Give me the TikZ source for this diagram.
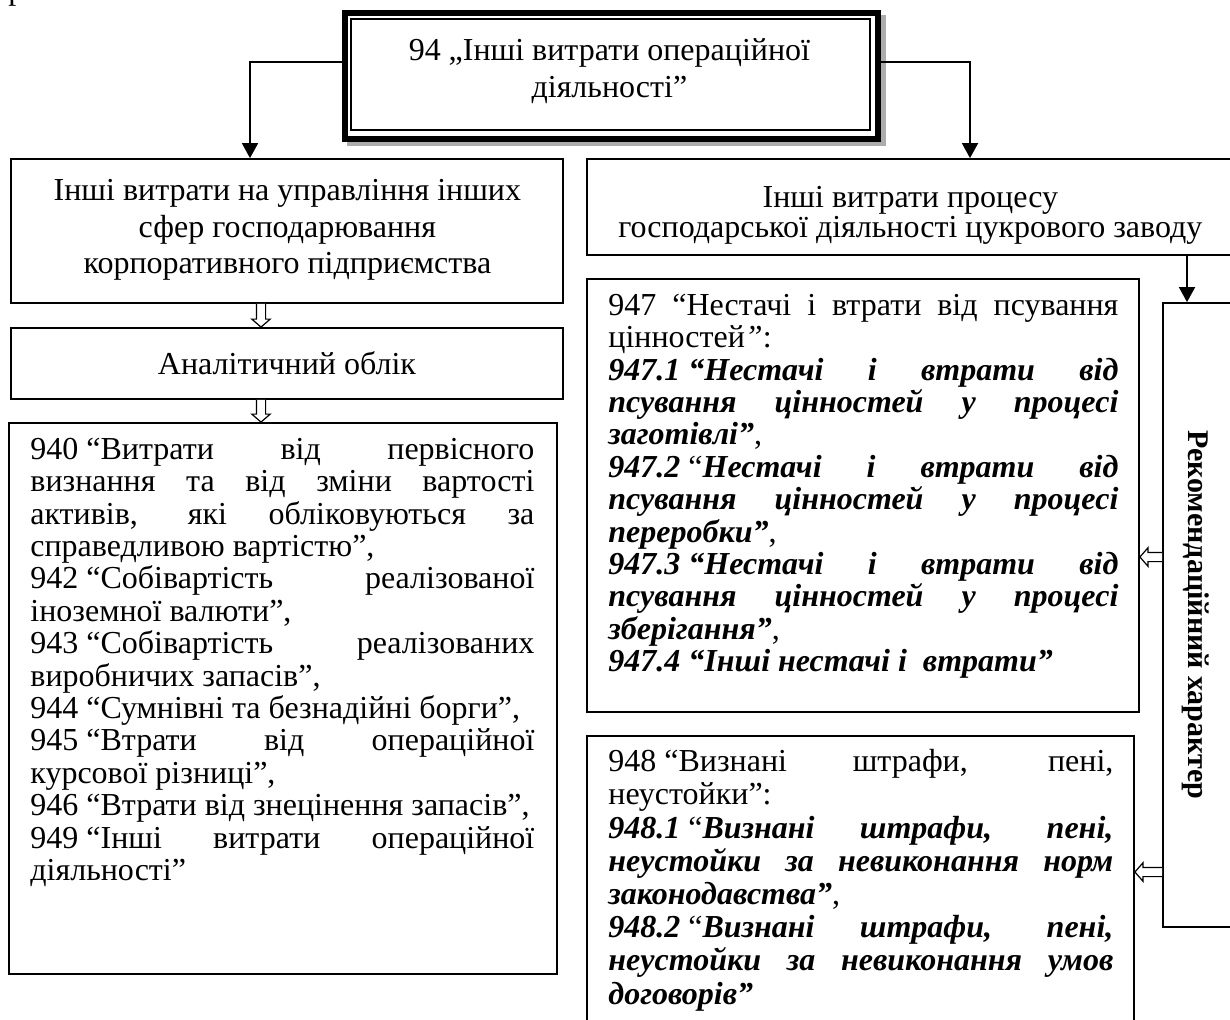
\documentclass[tikz,border=0pt]{standalone}
\usepackage{fontspec}
\setmainfont{Liberation Serif}
\usetikzlibrary{arrows.meta,calc}
\newcommand\jl[1]{\hbox to\hsize{\strut#1}}
\newcommand\rl[1]{\hbox{\strut#1}}
\newcommand\cl[1]{\hbox to\hsize{\strut\hfil#1\hfil}}
\newcommand\bi[1]{\textbf{\textit{#1}}}
\newcommand\ns{\hspace{0.25em}}
\newcommand\lines[2]{\vtop{\hsize=#1\relax\lineskiplimit=-\maxdimen\lineskip=0pt#2}}
% hollow block arrows between two points
\newcommand\hdown[2]{\draw[holl] let \p1=(#1),\p2=(#2) in
  (\x1-2.3pt,\y1) -- (\x1-2.3pt,\y2+4pt) -- (\x1-4.6pt,\y2+4pt) -- (\x1,\y2)
  -- (\x1+4.6pt,\y2+4pt) -- (\x1+2.3pt,\y2+4pt) -- (\x1+2.3pt,\y1);}
\newcommand\hleft[2]{\draw[holl] let \p1=(#1),\p2=(#2) in
  (\x1,\y1+2.3pt) -- (\x2+4pt,\y1+2.3pt) -- (\x2+4pt,\y1+4.6pt) -- (\x2,\y1)
  -- (\x2+4pt,\y1-4.6pt) -- (\x2+4pt,\y1-2.3pt) -- (\x1,\y1-2.3pt);}
\begin{document}
\begin{tikzpicture}[x=0.5pt,y=-0.5pt,
  every node/.style={font=\fontsize{16}{16.2}\selectfont},
  loose/.style={font=\fontsize{16}{18.4}\selectfont},
  box/.style={draw, line width=0.9pt, inner sep=0pt, fill=white},
  txt/.style={inner sep=0pt, anchor=north west},
  arr/.style={line width=0.9pt, -{Triangle[length=7.5pt,width=8pt]}},
  holl/.style={line width=0.6pt, fill=white, line join=miter},
]
\useasboundingbox (0,0) rectangle (1230,1019);
\clip (0,0) rectangle (1230,1019);
\fill[white] (0,0) rectangle (1230,1019);

% fragment of a glyph from the line above
\node[anchor=base west, inner sep=0pt] (frag) at (8,-1) {р};

% top box
\fill[gray!65] (347,15) rectangle (886,146);
\node[draw, line width=3pt, fill=white, minimum width=266.5pt, minimum height=63pt, inner sep=0pt] (top) at (611.5,76) {};
\node[draw, line width=0.6pt, minimum width=259.5pt, minimum height=55.5pt, inner sep=0pt] (topin) at (610.5,74.5) {};
\node[txt, loose] (toptxt) at (349,34.2) {\lines{260pt}{%
\cl{94 „Інші витрати операційної}%
\cl{діяльності”}}};

% left column
\node[box, minimum width=276pt, minimum height=72pt] (lb1) at (287,231) {};
\node[txt, loose] (lb1txt) at (17,174.2) {\lines{270pt}{%
\cl{Інші витрати на управління інших}%
\cl{сфер господарювання}%
\cl{корпоративного підприємства}}};
\node[box, minimum width=276pt, minimum height=35.5pt] (an) at (287,363.5) {Аналітичний облік};
\node[box, minimum width=274pt, minimum height=275.5pt] (bl) at (283,698.5) {};
\node[txt] (bltxt) at (30,436.3) {\lines{252pt}{%
\jl{940\ns“Витрати від первісного}%
\jl{визнання та від зміни вартості}%
\jl{активів, які обліковуються за}%
\rl{справедливою вартістю”,}%
\jl{942\ns“Собівартість реалізованої}%
\rl{іноземної валюти”,}%
\jl{943\ns“Собівартість реалізованих}%
\rl{виробничих запасів”,}%
\rl{944 “Сумнівні та безнадійні борги”,}%
\jl{945\ns“Втрати від операційної}%
\rl{курсової різниці”,}%
\rl{946 “Втрати від знецінення запасів”,}%
\jl{949\ns“Інші витрати операційної}%
\rl{діяльності”}}};

% right column
\node[box, minimum width=326.5pt, minimum height=48pt] (rb1) at (913.5,207) {};
\node[txt, font=\fontsize{16}{15}\selectfont] (rb1txt) at (600,186) {\lines{310pt}{%
\cl{Інші витрати процесу}%
\cl{господарської діяльності цукрового заводу}}};
\node[box, minimum width=276pt, minimum height=216.5pt] (b947) at (863,495.5) {};
\node[txt] (t947) at (608,292.3) {\lines{255pt}{%
\jl{947 “Нестачі і втрати від псування}%
\rl{цінностей\textit{”}:}%
\jl{\bi{947.1\ns“Нестачі і втрати від}}%
\jl{\bi{псування цінностей у процесі}}%
\rl{\bi{заготівлі”},}%
\jl{\bi{947.2}\ns“\bi{Нестачі і втрати від}}%
\jl{\bi{псування цінностей у процесі}}%
\rl{\bi{переробки”},}%
\jl{\bi{947.3\ns“Нестачі і втрати від}}%
\jl{\bi{псування цінностей у процесі}}%
\rl{\bi{зберігання”},}%
\rl{\bi{947.4 “Інші нестачі і\ \ втрати”}}}};
\node[box, minimum width=273.5pt, minimum height=152pt] (b948) at (860.5,888) {};
\node[txt, font=\fontsize{16}{16.6}\selectfont] (t948) at (608,748) {\lines{252.5pt}{%
\jl{948\ns“Визнані штрафи, пені,}%
\rl{неустойки”:}%
\jl{\bi{948.1}\ns“\bi{Визнані штрафи, пені,}}%
\jl{\bi{неустойки за невиконання норм}}%
\rl{\bi{законодавства”},}%
\jl{\bi{948.2}\ns“\bi{Визнані штрафи, пені,}}%
\jl{\bi{неустойки за невиконання умов}}%
\rl{\bi{договорів”}}}};
\node[box, minimum width=38.5pt, minimum height=312pt] (vb) at (1201.5,615) {};
\node[rotate=-90, font=\fontsize{15}{16}\selectfont\bfseries, inner sep=0pt] (vt) at (1196,615) {Рекомендаційний характер};

% connectors
\draw[arr] (top.west |- 0,62) -| (lb1.north -| 250,0);
\draw[arr] (top.east |- 0,62) -| (rb1.north -| 970,0);
\draw[arr] (rb1.south -| 1187,0) -- (vb.north -| 1187,0);
\hdown{lb1.south -| 261,0}{an.north -| 261,0}
\hdown{an.south -| 261,0}{bl.north -| 261,0}
\hleft{vb.west |- 0,557}{b947.east |- 0,557}
\hleft{vb.west |- 0,872}{b948.east |- 0,872}
\end{tikzpicture}
\end{document}
